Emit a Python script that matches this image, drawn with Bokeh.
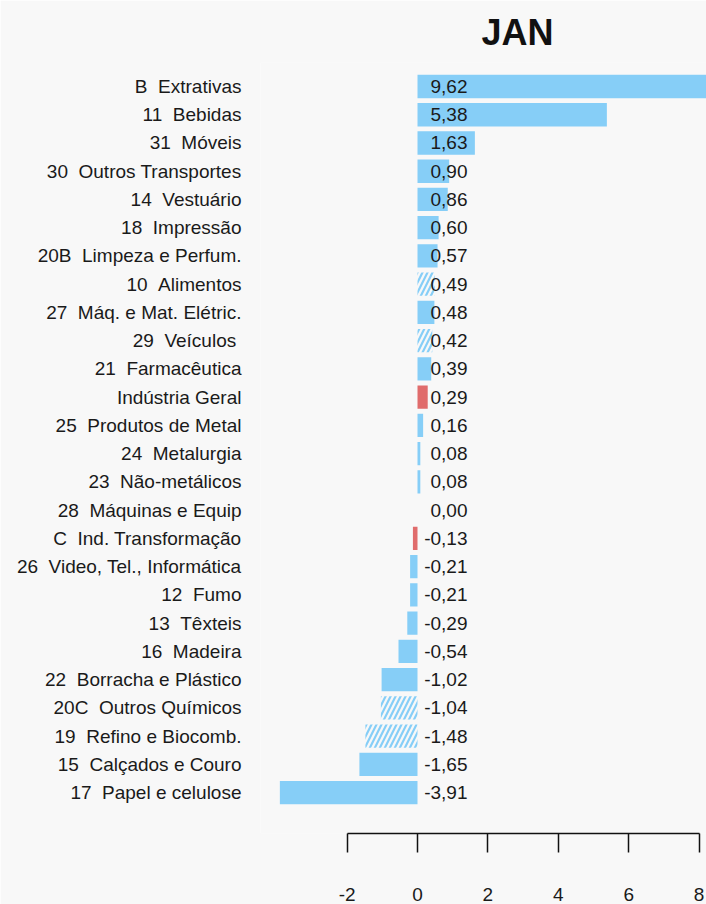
from bokeh.plotting import figure
from bokeh.models import Range1d, FixedTicker, ColumnDataSource
from bokeh.embed import file_html
from bokeh.resources import INLINE
from bokeh.core.properties import value

# ---- data (top to bottom) ----
categories = [
    "B  Extrativas", "11  Bebidas", "31  Móveis", "30  Outros Transportes",
    "14  Vestuário", "18  Impressão", "20B  Limpeza e Perfum.", "10  Alimentos",
    "27  Máq. e Mat. Elétric.", "29  Veículos ", "21  Farmacêutica", "Indústria Geral",
    "25  Produtos de Metal", "24  Metalurgia", "23  Não-metálicos", "28  Máquinas e Equip",
    "C  Ind. Transformação", "26  Video, Tel., Informática", "12  Fumo", "13  Têxteis",
    "16  Madeira", "22  Borracha e Plástico", "20C  Outros Químicos",
    "19  Refino e Biocomb.", "15  Calçados e Couro", "17  Papel e celulose",
]
values = [
    9.62, 5.38, 1.63, 0.90, 0.86, 0.60, 0.57, 0.49, 0.48, 0.42, 0.39, 0.29,
    0.16, 0.08, 0.08, 0.00, -0.13, -0.21, -0.21, -0.29, -0.54, -1.02, -1.04,
    -1.48, -1.65, -3.91,
]
kinds = [
    "solid", "solid", "solid", "solid", "solid", "solid", "solid", "hatch",
    "solid", "hatch", "solid", "total", "solid", "solid", "solid", "solid",
    "total", "solid", "solid", "solid", "solid", "solid", "hatch", "hatch",
    "solid", "solid",
]
x_ticks = [-2, 0, 2, 4, 6, 8]
x_tick_labels = ["-2", "0", "2", "4", "6", "8"]
title_text = "JAN"

BLUE = "#86CEF7"
RED = "#E06C6C"
BG = "#F8F8F8"
FONT = "Liberation Sans"

n = len(categories)
ypos = list(range(n))
labels = [f"{v:.2f}".replace(".", ",") for v in values]
# keep the double spaces visible in SVG text (second space non-breaking)
shown_categories = [c.replace("  ", " \u00a0") for c in categories]

def subset(kind):
    idx = [i for i in range(n) if kinds[i] == kind]
    return ColumnDataSource(dict(
        y=[ypos[i] for i in idx],
        v=[values[i] for i in idx],
    ))

p = figure(
    width=706, height=904,
    x_range=Range1d(-4.46, 8.21),
    y_range=Range1d(26.45, -0.85),
    output_backend="svg", toolbar_location=None,
    min_border_left=260, min_border_right=0,
    min_border_bottom=71, min_border_top=62,
    background_fill_color=BG, border_fill_color=BG,
    outline_line_color=None,
)

p.hbar(y="y", left=0, right="v", height=0.825, source=subset("solid"),
       fill_color=BLUE, line_color=None)
p.hbar(y="y", left=0, right="v", height=0.825, source=subset("total"),
       fill_color=RED, line_color=None)
p.hbar(y="y", left=0, right="v", height=0.825, source=subset("hatch"),
       fill_color=None, line_color=None,
       hatch_pattern="/", hatch_color=BLUE, hatch_weight=2.2, hatch_scale=10)

lab_src = ColumnDataSource(dict(y=ypos, x=[0] * n, t=labels))
p.text(x="x", y="y", text="t", source=lab_src, x_offset=50,
       text_align="right", text_baseline="middle",
       text_font=value(FONT), text_font_size="19px", text_color="#1a1a1a")

# title
p.title.text = title_text
p.title.text_font = FONT
p.title.text_font_size = "36px"
p.title.text_font_style = "bold"
p.title.text_color = "#111111"
p.title.align = "left"
p.title.offset = 221
p.title.standoff = 19

# grids
p.xgrid.grid_line_color = None
p.ygrid.grid_line_color = None

# y axis as category labels
p.yaxis.ticker = FixedTicker(ticks=ypos)
p.yaxis.major_label_overrides = {i: shown_categories[i] for i in ypos}
p.yaxis.axis_line_color = None
p.yaxis.major_tick_line_color = None
p.yaxis.minor_tick_line_color = None
p.yaxis.major_tick_in = 0
p.yaxis.major_tick_out = 0
p.yaxis.major_label_standoff = 19
p.yaxis.major_label_text_font = FONT
p.yaxis.major_label_text_font_size = "19px"
p.yaxis.major_label_text_color = "#1a1a1a"

# x axis
p.xaxis.ticker = FixedTicker(ticks=x_ticks)
p.xaxis.major_label_overrides = dict(zip(x_ticks, x_tick_labels))
p.xaxis.bounds = (x_ticks[0], x_ticks[-1])
p.xaxis.axis_line_color = "#111111"
p.xaxis.axis_line_width = 1.5
p.xaxis.major_tick_line_color = "#111111"
p.xaxis.major_tick_line_width = 1.5
p.xaxis.major_tick_in = 0
p.xaxis.major_tick_out = 19
p.xaxis.minor_tick_line_color = None
p.xaxis.major_label_standoff = 35
p.xaxis.major_label_text_font = FONT
p.xaxis.major_label_text_font_size = "19px"
p.xaxis.major_label_text_color = "#1a1a1a"

open("out.html", "w").write(file_html(p, INLINE))
